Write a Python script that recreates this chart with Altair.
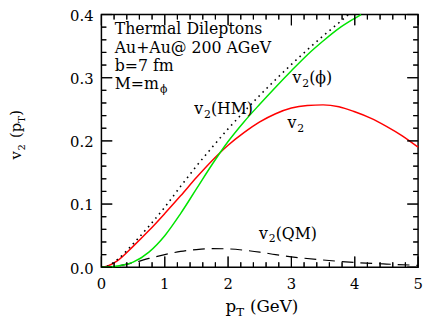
import altair as alt
import pandas as pd

# ---- data ----
pt_v2 = [0, 0.1, 0.25, 0.5, 0.75, 1.0, 1.25, 1.5, 1.75, 2.0, 2.25, 2.5, 2.75, 3.0, 3.25, 3.5, 3.75, 4.0, 4.25, 4.5, 4.75, 5.0]
v2 = [0, 0.002, 0.01, 0.033, 0.058, 0.085, 0.113, 0.142, 0.169, 0.193, 0.213, 0.23, 0.243, 0.252, 0.256, 0.257, 0.254, 0.246, 0.236, 0.223, 0.208, 0.19]

pt_phi = [0, 0.25, 0.5, 0.75, 1.0, 1.25, 1.5, 1.75, 2.0, 2.25, 2.5, 2.75, 3.0, 3.25, 3.5, 3.75, 4.0, 4.1]
v2_phi = [0, 0.002, 0.008, 0.024, 0.05, 0.085, 0.124, 0.163, 0.199, 0.23, 0.258, 0.285, 0.311, 0.336, 0.358, 0.378, 0.394, 0.4]

pt_hm = [0, 0.1, 0.25, 0.5, 0.75, 1.0, 1.25, 1.5, 1.75, 2.0, 2.25, 2.5, 2.75, 3.0, 3.25, 3.5, 3.75, 3.9]
v2_hm = [0, 0.002, 0.012, 0.037, 0.065, 0.095, 0.128, 0.16, 0.19, 0.219, 0.246, 0.272, 0.297, 0.321, 0.344, 0.366, 0.387, 0.4]

pt_qm = [0, 0.25, 0.5, 0.75, 1.0, 1.25, 1.5, 1.75, 2.0, 2.25, 2.5, 2.75, 3.0, 3.5, 4.0, 4.5, 5.0]
v2_qm = [0, 0.002, 0.007, 0.014, 0.02, 0.025, 0.028, 0.0295, 0.029, 0.027, 0.024, 0.02, 0.0165, 0.0115, 0.0075, 0.005, 0.003]

x_major = [0, 1, 2, 3, 4, 5]
x_labels = ["0", "1", "2", "3", "4", "5"]
x_minor = [round(0.2 * i, 1) for i in range(26) if i % 5]
y_major = [0.0, 0.1, 0.2, 0.3, 0.4]
y_labels = ["0.0", "0.1", "0.2", "0.3", "0.4"]
y_minor = [round(0.02 * i, 2) for i in range(21) if i % 5]

# annotation texts and anchors in data units
info_lines = ["Thermal Dileptons", "Au+Au@ 200 AGeV", "b=7 fm"]
info_x = [0.209, 0.209, 0.209]
info_y = [0.3697, 0.3394, 0.3106]
mass_text, mass_sub = "M=m", "\u03d5"
mass_x, mass_y = 0.209, 0.2818

curve_labels = ["(\u03d5)", "(HM)", "", "(QM)"]
curve_x = [3.016, 1.465, 2.938, 2.488]
curve_y = [0.2909, 0.2424, 0.2197, 0.0455]

FONT = "DejaVu Serif"
W, H = 322, 257
MAJ, MIN = 11, 5

xscale = alt.Scale(domain=[0, 5], nice=False, zero=False)
yscale = alt.Scale(domain=[0, 0.4], nice=False, zero=False)


def df(xs, ys):
    return pd.DataFrame({"pt": xs, "v": ys})


def curve(xs, ys, **style):
    return alt.Chart(df(xs, ys)).mark_line(interpolate="monotone", **style).encode(
        x=alt.X("pt:Q", scale=xscale, axis=None),
        y=alt.Y("v:Q", scale=yscale, axis=None))


red = curve(pt_v2, v2, color="#ff0000", strokeWidth=1.5)
green = curve(pt_phi, v2_phi, color="#00e400", strokeWidth=1.5)
hm = curve(pt_hm, v2_hm, color="black", strokeWidth=1.6, strokeDash=[1.6, 4.2], strokeCap="butt")
qm = curve(pt_qm, v2_qm, color="black", strokeWidth=1.2, strokeDash=[12, 7])


# inward tick marks on all four sides, placed by the shared scales
def xticks(vals, length, side):
    y0, y1 = (H, H - length) if side == "bottom" else (0, length)
    d = pd.DataFrame({"tx": vals})
    rule = alt.Chart(d).mark_rule(color="black", strokeWidth=1.2).encode(
        x=alt.X("tx:Q", scale=xscale, axis=None), y=alt.value(y0), y2=alt.value(y1))
    tick = alt.Chart(d).mark_tick(color="black", thickness=1.2, size=length, orient="vertical").encode(
        x=alt.X("tx:Q", scale=xscale, axis=None), y=alt.value((y0 + y1) / 2))
    return [rule, tick]


def yticks(vals, length, side):
    x0, x1 = (0, length) if side == "left" else (W, W - length)
    d = pd.DataFrame({"ty": vals})
    rule = alt.Chart(d).mark_rule(color="black", strokeWidth=1.2).encode(
        y=alt.Y("ty:Q", scale=yscale, axis=None), x=alt.value(x0), x2=alt.value(x1))
    tick = alt.Chart(d).mark_tick(color="black", thickness=1.2, size=length, orient="horizontal").encode(
        y=alt.Y("ty:Q", scale=yscale, axis=None), x=alt.value((x0 + x1) / 2))
    return [rule, tick]


ticks = (xticks(x_major, MAJ, "bottom") + xticks(x_minor, MIN, "bottom")
         + xticks(x_major, MAJ, "top") + xticks(x_minor, MIN, "top")
         + yticks(y_major, MAJ, "left") + yticks(y_minor, MIN, "left")
         + yticks(y_major, MAJ, "right") + yticks(y_minor, MIN, "right"))

# tick labels, positioned through the scales
xlab = alt.Chart(pd.DataFrame({"lx": x_major, "lab": x_labels})).mark_text(
    font=FONT, fontSize=15, color="black", align="center", baseline="top", dy=10).encode(
    x=alt.X("lx:Q", scale=xscale, axis=None), y=alt.value(H), text="lab:N")
ylab = alt.Chart(pd.DataFrame({"ly": y_major, "lab": y_labels})).mark_text(
    font=FONT, fontSize=15, color="black", align="right", baseline="middle", dx=-8, dy=1.5).encode(
    y=alt.Y("ly:Q", scale=yscale, axis=None), x=alt.value(0), text="lab:N")


def text_layer(data, dx=0, dy=0, size=16, align="left"):
    return alt.Chart(pd.DataFrame(data)).mark_text(
        font=FONT, fontSize=size, color="black", align=align, baseline="alphabetic", dx=dx, dy=dy).encode(
        x=alt.X("x:Q", scale=xscale, axis=None),
        y=alt.Y("y:Q", scale=yscale, axis=None),
        text="t:N")


info = text_layer({"t": info_lines, "x": info_x, "y": info_y})
mass = text_layer({"t": [mass_text], "x": [mass_x], "y": [mass_y]})
mass_s = text_layer({"t": [mass_sub], "x": [mass_x], "y": [mass_y]}, dx=46, dy=4, size=11)

cv = text_layer({"t": ["v"] * 4, "x": curve_x, "y": curve_y})
cv_s = text_layer({"t": ["2"] * 4, "x": curve_x, "y": curve_y}, dx=10, dy=4, size=11)
cv_t = text_layer({"t": curve_labels, "x": curve_x, "y": curve_y}, dx=17)


def title_piece(t, x, y, size, align="left", angle=0, dx=0, dy=0):
    return alt.Chart(pd.DataFrame({"t": [t]})).mark_text(
        font=FONT, fontSize=size, color="black", align=align, baseline="alphabetic",
        angle=angle, dx=dx, dy=dy).encode(x=alt.value(x), y=alt.value(y), text="t:N")


# x axis title: p_T (GeV)
xt1 = title_piece("p", 137, 303, 17, align="right")
xt2 = title_piece("T", 137, 303, 12, dy=4)
xt3 = title_piece("(GeV)", 137, 303, 17, dx=14)
# y axis title: v_2(p_T), rotated
YA_X, YA_Y = -82, 110
yt1 = title_piece("v", YA_X, YA_Y, 15, align="right", angle=270, dx=-29)
yt2 = title_piece("2", YA_X, YA_Y, 10, align="right", angle=270, dx=-22, dy=4)
yt3 = title_piece("(p", YA_X, YA_Y, 15, align="right", angle=270)
yt4 = title_piece("T", YA_X, YA_Y, 10, align="left", angle=270, dy=4)
yt5 = title_piece(")", YA_X, YA_Y, 15, align="left", angle=270, dx=7)

chart = alt.layer(
    red, qm, hm, green, xlab, ylab, *ticks, info, mass, mass_s, cv, cv_s, cv_t,
    xt1, xt2, xt3, yt1, yt2, yt3, yt4, yt5
).properties(
    width=W, height=H,
    autosize=alt.AutoSizeParams(type="none"),
    padding={"left": 95, "top": 4, "right": 5, "bottom": 50},
).configure_view(stroke="black", strokeWidth=1.5)

chart.save("out.html", embed_options={"renderer": "svg", "actions": False})
